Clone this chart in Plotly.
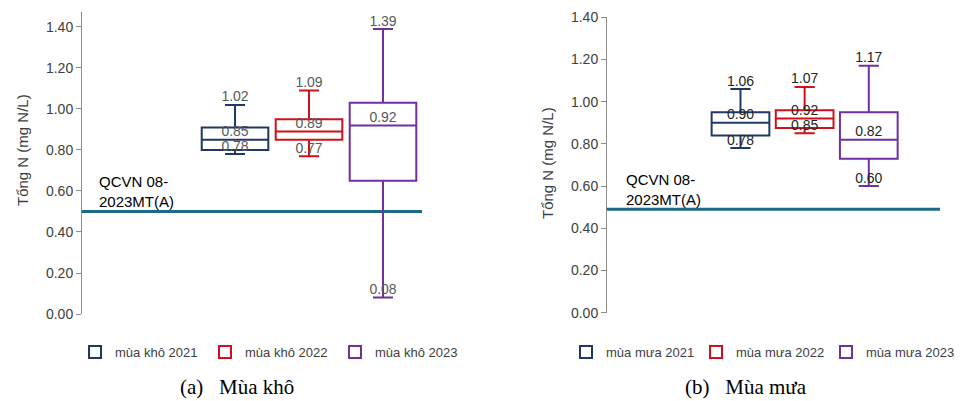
import plotly.graph_objects as go

# The page places the figure 8 px from the window's top-left corner.
OFF = 8
W, H = 964 - OFF, 401 - OFF

# ---------------- data ----------------
DRY_NAMES = ["mùa khô 2021", "mùa khô 2022", "mùa khô 2023"]
DRY_LOWER = [0.78, 0.77, 0.08]
DRY_Q1 = [0.80, 0.85, 0.65]
DRY_MEDIAN = [0.85, 0.89, 0.92]
DRY_Q3 = [0.91, 0.95, 1.03]
DRY_UPPER = [1.02, 1.09, 1.39]

RAINY_NAMES = ["mùa mưa 2021", "mùa mưa 2022", "mùa mưa 2023"]
RAINY_LOWER = [0.78, 0.85, 0.60]
RAINY_Q1 = [0.84, 0.875, 0.73]
RAINY_MEDIAN = [0.90, 0.92, 0.82]
RAINY_Q3 = [0.95, 0.96, 0.95]
RAINY_UPPER = [1.06, 1.07, 1.17]

THRESHOLD_DRY = 0.50
THRESHOLD_RAINY = 0.49
THRESHOLD_LABEL = "QCVN 08-<br>2023MT(A)"

Y_TICKS = [0.0, 0.2, 0.4, 0.6, 0.8, 1.0, 1.2, 1.4]
Y_TITLE = "Tổng N (mg N/L)"
CAPTION_DRY = "(a)\u00a0\u00a0\u00a0Mùa khô"
CAPTION_RAINY = "(b)\u00a0\u00a0\u00a0Mùa mưa"

COLORS = ["#1F3864", "#D0101A", "#7030A0"]
POSITIONS = [1, 2, 3]

FONT = "Liberation Sans, Arial, sans-serif"


def fx(px):
    """window pixel x -> paper fraction"""
    return (px - OFF) / W


def fy(py):
    """window pixel y -> paper fraction"""
    return 1 - (py - OFF) / H


fig = go.Figure()


def add_panel(names, lower, q1, med, q3, upper, xa, ya, legend, label_color, whisker):
    for i, name in enumerate(names):
        fig.add_trace(go.Box(
            x=[POSITIONS[i]], q1=[q1[i]], median=[med[i]], q3=[q3[i]],
            lowerfence=[lower[i]], upperfence=[upper[i]],
            name=name, width=0.9, whiskerwidth=whisker,
            line=dict(color=COLORS[i], width=2),
            fillcolor="rgba(0,0,0,0)", boxpoints=False,
            xaxis=xa, yaxis=ya, legend=legend, hoverinfo="skip",
        ))
    for i in range(len(names)):
        vals = [upper[i], med[i], lower[i]]
        fig.add_trace(go.Scatter(
            x=[POSITIONS[i]] * 3, y=vals, mode="text",
            text=[f"{v:.2f}" for v in vals], textposition="top center",
            textfont=dict(family=FONT, size=14, color=label_color),
            showlegend=False, xaxis=xa, yaxis=ya, hoverinfo="skip",
        ))


add_panel(DRY_NAMES, DRY_LOWER, DRY_Q1, DRY_MEDIAN, DRY_Q3, DRY_UPPER,
          "x", "y", "legend", "#595959", 0.3)
add_panel(RAINY_NAMES, RAINY_LOWER, RAINY_Q1, RAINY_MEDIAN, RAINY_Q3, RAINY_UPPER,
          "x2", "y2", "legend2", "#262626", 0.35)

# threshold lines
fig.add_shape(type="line", xref="x domain", yref="y", x0=0, x1=1,
              y0=THRESHOLD_DRY, y1=THRESHOLD_DRY,
              line=dict(color="#1B6A87", width=3), layer="below")
fig.add_shape(type="line", xref="x2 domain", yref="y2", x0=0, x1=1,
              y0=THRESHOLD_RAINY, y1=THRESHOLD_RAINY,
              line=dict(color="#1B6A87", width=3), layer="below")

yaxis_common = dict(
    tickvals=Y_TICKS, tickformat=".2f", showgrid=False, zeroline=False,
    showline=True, linecolor="#8C8C8C", linewidth=1,
    ticks="outside", ticklen=5, tickcolor="#8C8C8C",
    tickfont=dict(family=FONT, size=14, color="#404040"),
)
xaxis_common = dict(visible=False, showgrid=False, zeroline=False)

legend_common = dict(
    orientation="h", xanchor="left", yanchor="middle",
    font=dict(family=FONT, size=13, color="#404040"),
    bgcolor="rgba(0,0,0,0)", traceorder="normal",
    entrywidthmode="pixels", entrywidth=85,
)

fig.update_layout(
    width=W, height=H,
    margin=dict(l=0, r=0, t=0, b=0, autoexpand=False),
    paper_bgcolor="white", plot_bgcolor="white",
    font=dict(family=FONT, color="#404040"),
    xaxis=dict(domain=[fx(82), fx(422)], range=[-1.068, 3.527], anchor="y", **xaxis_common),
    yaxis=dict(domain=[fy(314), fy(12)], range=[0, 1.473], anchor="x", **yaxis_common),
    xaxis2=dict(domain=[fx(607), fx(940)], range=[-1.081, 4.11], anchor="y2", **xaxis_common),
    yaxis2=dict(domain=[fy(312.7), fy(17.3)], range=[0, 1.4], anchor="x2", **yaxis_common),
    legend=dict(x=fx(75), y=fy(352), **legend_common),
    legend2=dict(x=fx(566), y=fy(352), **legend_common),
    showlegend=True,
)

annotations = [
    dict(text=THRESHOLD_LABEL, x=fx(97), y=fy(191), xref="paper", yref="paper",
         xanchor="left", yanchor="middle", align="left", showarrow=False,
         font=dict(family=FONT, size=15, color="#000000")),
    dict(text=THRESHOLD_LABEL, x=fx(624), y=fy(189), xref="paper", yref="paper",
         xanchor="left", yanchor="middle", align="left", showarrow=False,
         font=dict(family=FONT, size=15, color="#000000")),
    dict(text=Y_TITLE, x=fx(22), y=fy(150), xref="paper", yref="paper",
         textangle=-90, showarrow=False, xanchor="center", yanchor="middle",
         font=dict(family=FONT, size=15, color="#404040")),
    dict(text=Y_TITLE, x=fx(547), y=fy(163), xref="paper", yref="paper",
         textangle=-90, showarrow=False, xanchor="center", yanchor="middle",
         font=dict(family=FONT, size=15, color="#404040")),
    dict(text=CAPTION_DRY, x=fx(237), y=fy(387), xref="paper", yref="paper",
         showarrow=False, xanchor="center", yanchor="middle",
         font=dict(family="Liberation Serif, Times New Roman, serif", size=21, color="#000000")),
    dict(text=CAPTION_RAINY, x=fx(746), y=fy(387), xref="paper", yref="paper",
         showarrow=False, xanchor="center", yanchor="middle",
         font=dict(family="Liberation Serif, Times New Roman, serif", size=21, color="#000000")),
]
fig.update_layout(annotations=annotations)

fig.write_html("out.html")
